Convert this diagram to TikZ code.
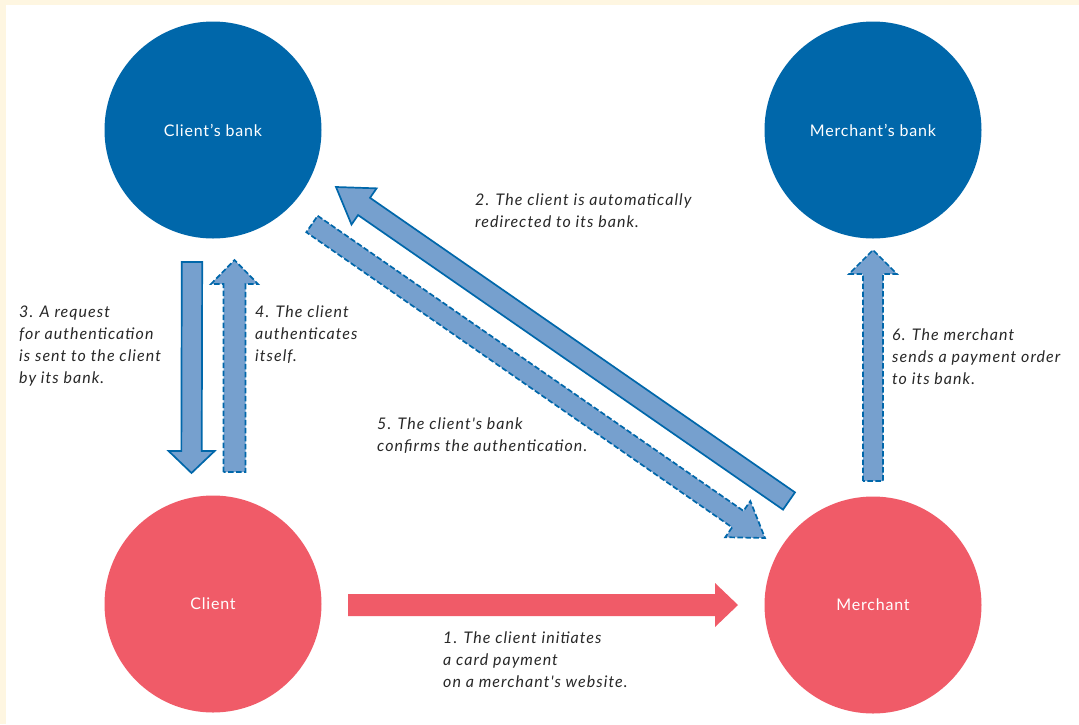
\documentclass[tikz,border=0pt]{standalone}
\usepackage{fontspec}
\setmainfont{Lato}
\newfontfamily\nodefont[LetterSpace=5]{Lato}
\newfontfamily\labelfont[LetterSpace=6.5]{Lato}
\usetikzlibrary{calc}
\definecolor{cream}{RGB}{254,246,225}
\definecolor{bankblue}{RGB}{0,103,170}
\definecolor{arrowblue}{RGB}{118,160,206}
\definecolor{partyred}{RGB}{240,91,104}
\definecolor{labeltext}{RGB}{40,40,40}
\newcommand{\sq}{{\char"0027}}
\tikzset{
  barrow/.style n args={3}{to path={
    let \p1=(\tikztostart), \p2=(\tikztotarget),
        \n1={atan2(\y2-\y1,\x2-\x1)}, \n2={veclen(\x2-\x1,\y2-\y1)-#3} in
    ($(\p1)+(\n1+90:#1pt)$) -- ($(\p1)+(\n1:\n2)+(\n1+90:#1pt)$)
    -- ($(\p1)+(\n1:\n2)+(\n1+90:#2pt)$) -- (\p2)
    -- ($(\p1)+(\n1:\n2)+(\n1-90:#2pt)$) -- ($(\p1)+(\n1:\n2)+(\n1-90:#1pt)$)
    -- ($(\p1)+(\n1-90:#1pt)$) -- cycle
  }},
  solidarrow/.style={draw=bankblue, fill=arrowblue, line width=1.7pt, line join=miter},
  dasharrow/.style={draw=bankblue, fill=arrowblue, line width=1.7pt, dash pattern=on 5.5pt off 2.5pt, line join=miter},
  redarrow/.style={fill=partyred, draw=none},
  party/.style={circle, minimum size=217pt, inner sep=0pt, text=white, font=\nodefont\fontsize{16}{19}\selectfont},
  bank/.style={party, fill=bankblue},
  person/.style={party, fill=partyred},
  steplabel/.style={anchor=north west, inner sep=0pt, align=left, text=labeltext, font=\labelfont\fontsize{16}{22}\selectfont\itshape},
}
\begin{document}
\begin{tikzpicture}[x=1pt,y=-1pt]
\useasboundingbox (0,0) rectangle (1079,724);
\fill[cream] (0,0) rectangle (1079,724);
\fill[white] (6,5) rectangle (1079,724);

\node[bank] (cbank) at (213,130) {Client’s bank};
\node[bank] (mbank) at (873,130) {Merchant’s bank};
\node[person] (client) at (213,604) {Client};
\node[person] (merchant) at (873,605) {Merchant};

% arrow end points
\coordinate (a1t) at (348,605);  \coordinate (a1h) at (738,605);
\coordinate (a2t) at (789,501);  \coordinate (a2h) at (336,187);
\coordinate (a3t) at (192,262);  \coordinate (a3h) at (191.5,473);
\coordinate (a4t) at (234.5,472); \coordinate (a4h) at (234.5,260);
\coordinate (a5t) at (312,224);  \coordinate (a5h) at (765,538);
\coordinate (a6t) at (873,481);  \coordinate (a6h) at (873,250);

\path[redarrow] (a1t) to[barrow={11}{22}{23}] (a1h);
\path[solidarrow] (a2t) to[barrow={10.5}{22}{34}] (a2h);
\path[solidarrow] (a3t) to[barrow={10.2}{23}{22}] (a3h);
\path[dasharrow] (a4t) to[barrow={11}{23.5}{24}] (a4h);
\path[dasharrow] (a5t) to[barrow={10}{22}{33}] (a5h);
\path[dasharrow] (a6t) to[barrow={10}{24}{24}] (a6h);

\node[steplabel] (l1) at (443,632) {1. The client initiates\\a card payment\\on a merchant\sq s website.};
\node[steplabel] (l2) at (475,194) {2. The client is automatically\\redirected to its bank.};
\node[steplabel] (l3) at (19,306) {3. A request\\for authentication\\is sent to the client\\by its bank.};
\node[steplabel] (l4) at (255,306) {4. The client\\authenticates\\itself.};
\node[steplabel] (l5) at (377,418) {5. The client\sq s bank\\confirms the authentication.};
\node[steplabel] (l6) at (892,329) {6. The merchant\\sends a payment order\\to its bank.};
\end{tikzpicture}
\end{document}
